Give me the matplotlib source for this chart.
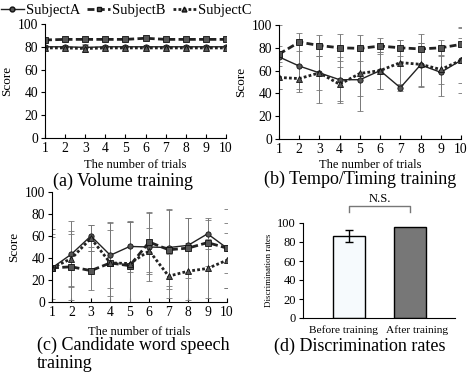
import matplotlib
matplotlib.use("Agg")
import matplotlib.pyplot as plt
import matplotlib.transforms as mtransforms
from matplotlib.lines import Line2D

plt.rcParams['font.family'] = ['Liberation Serif', 'DejaVu Serif']
plt.rcParams['font.size'] = 9

trials = list(range(1, 11))

# (a) Volume training
vol_a = [80, 80, 79.5, 80, 80, 80, 80, 80, 80, 80]
vol_b = [86, 86.5, 86.5, 86.5, 86.5, 87.5, 86.5, 86.5, 86.5, 86.5]
vol_c = [79, 79, 78.5, 79, 79, 79, 79, 79, 79, 79]
vol_a_err = [1.5, 1.5, 3, 1.5, 1.5, 1.5, 1.5, 1.5, 1.5, 1.5]
vol_b_err = [1, 1, 1, 1, 1, 1, 1, 1, 1, 1]
vol_c_err = [1.5, 1.5, 3, 1.5, 2, 2, 2, 2, 1.5, 1.5]

# (b) Tempo/Timing training
tempo_a = [72, 64, 58, 52, 52, 60, 45, 65, 58.5, 69]
tempo_b = [74.5, 85, 82, 80, 79.5, 81.5, 80, 79, 80, 83]
tempo_c = [54, 53, 58, 48, 57.5, 60, 67, 65.5, 61, 69]
tempo_a_err = [28, 20, 26, 20, 27, 16, 3, 19, 21, 29]
tempo_b_err = [7, 8, 9, 12, 11.5, 7, 7, 13, 7, 14]
tempo_c_err = [10, 12, 15, 15, 20, 16, 20, 19, 13, 20]

# (c) Candidate word speech training
word_a = [31, 43.5, 60, 42.5, 50.5, 50, 49.5, 51.5, 62, 49]
word_b = [31, 32, 28.5, 35.5, 33, 54.5, 47.5, 49, 54, 49]
word_c = [31, 39.5, 58, 35.5, 35, 46.5, 23.5, 28, 30.5, 38]
word_a_err = [35, 30, 10, 30, 23, 31, 35, 25, 14, 23]
word_b_err = [31, 30, 18, 36, 40, 27, 36, 27, 21, 36]
word_c_err = [28, 25, 12, 30, 38, 21, 20, 26, 27, 25]

# (d) Discrimination rates
groups = ['Before training', 'After training']
disc = [86, 95.5]
disc_err = [6.5, 0]

fig = plt.figure(figsize=(4.67, 3.76), dpi=100)

series_style = [
    dict(ls='-', lw=1.0, marker='o', label='SubjectA'),
    dict(ls=(0, (2.5, 1.2)), lw=2.0, marker='s', label='SubjectB'),
    dict(ls=(0, (1, 0.8)), lw=2.0, marker='^', label='SubjectC'),
]


def line_panel(rect, ys, errs, caption, cap_xy, xlabelpad=5, cap_ha='center'):
    ax = fig.add_axes(rect)
    for y, e, st in zip(ys, errs, series_style):
        ax.errorbar(trials, y, yerr=e, color='#222222', ecolor='#777777',
                    elinewidth=0.7, capsize=2, capthick=0.7,
                    ls=st['ls'], lw=st['lw'], marker=st['marker'], ms=3.8,
                    mfc='#555555', mec='#111111', mew=0.6)
    ax.set_xlim(1, 10)
    ax.set_ylim(0, 100)
    ax.set_xticks(trials)
    ax.set_yticks(range(0, 101, 20))
    ax.spines['top'].set_visible(False)
    ax.spines['right'].set_visible(False)
    ax.tick_params(axis='x', direction='in', length=3, labelsize=9.8, pad=3)
    ax.tick_params(axis='y', direction='out', length=3, labelsize=9.8, pad=2)
    ax.set_ylabel('Score', fontsize=9.5, labelpad=3)
    ax.set_xlabel('The number of trials', fontsize=9, labelpad=xlabelpad)
    fig.text(cap_xy[0], cap_xy[1], caption, fontsize=13, ha=cap_ha, va='top',
             linespacing=1.05)
    return ax


line_panel([45/467, 1-138/376, 181/467, 114/376],
           [vol_a, vol_b, vol_c], [vol_a_err, vol_b_err, vol_c_err],
           '(a) Volume training', (123/467, 1-173/376), xlabelpad=3)
line_panel([279/467, 1-139/376, 182/467, 114/376],
           [tempo_a, tempo_b, tempo_c], [tempo_a_err, tempo_b_err, tempo_c_err],
           '(b) Tempo/Timing training', (360/467, 1-171/376), xlabelpad=2)
line_panel([52/467, 1-302/376, 175/467, 110/376],
           [word_a, word_b, word_c], [word_a_err, word_b_err, word_c_err],
           '(c) Candidate word speech\ntraining', (37/467, 1-337/376), cap_ha='left')

# legend across the top
handles = [Line2D([], [], color='#222222', ls=st['ls'], lw=st['lw'],
                  marker=st['marker'], ms=3.5, mfc='#555555', mec='#111111')
           for st in series_style]
fig.legend(handles, [st['label'] for st in series_style], loc='upper left',
           bbox_to_anchor=(-0.027, 1.025), ncol=3, frameon=False, fontsize=10.5,
           handlelength=1.6, handletextpad=0.15, columnspacing=0.45)

# (d) bar chart
axd = fig.add_axes([303/467, 1-318/376, 152/467, 95/376])
axd.bar([0, 1], disc, width=0.52, color=['#f6fafd', '#777777'],
        edgecolor='black', linewidth=1.0)
axd.errorbar([0], disc[:1], yerr=disc_err[:1], color='black', lw=1.0,
             capsize=3, capthick=1.0, ls='none')
axd.set_xlim(-0.754, 1.738)
axd.set_ylim(0, 100)
axd.set_yticks(range(0, 101, 20))
axd.set_xticks([0, 1])
axd.set_xticklabels(groups)
axd.spines['top'].set_visible(False)
axd.spines['right'].set_visible(False)
axd.tick_params(axis='x', length=0, labelsize=8.2, pad=5)
axd.tick_params(axis='y', direction='out', length=3, labelsize=9, pad=2)
for lab, dx in zip(axd.get_xticklabels(), [-5, 7]):
    lab.set_transform(lab.get_transform() +
                      mtransforms.ScaledTranslation(dx / 100, 0, fig.dpi_scale_trans))
axd.set_ylabel('Discrimination rates', fontsize=6.5, labelpad=3)
# N.S. bracket
axd.plot([0, 0, 1, 1], [112, 118, 118, 112], color='#777777', lw=1.0,
         clip_on=False)
axd.text(0.5, 119, 'N.S.', ha='center', va='bottom', fontsize=9)
fig.text(360/467, 1-338/376, '(d) Discrimination rates', fontsize=13,
         ha='center', va='top')

fig.savefig('out.png', dpi=100)
